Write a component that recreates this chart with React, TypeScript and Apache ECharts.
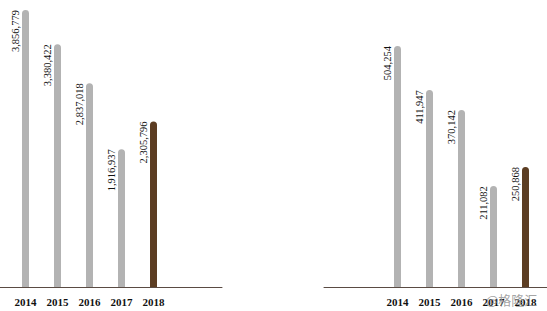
import React, { useEffect, useRef } from "react";
import * as echarts from "echarts";

const years = ["2014", "2015", "2016", "2017", "2018"];
const leftValues = [3856779, 3380422, 2837018, 1916937, 2305796];
const rightValues = [504254, 411947, 370142, 211082, 250868];

const GRAY = "#b3b3b3";
const BROWN = "#5c3d22";
const AXIS = "#5a4b43";
const SERIF = "'Liberation Serif', 'Times New Roman', serif";

const fmt = (v: number) => v.toLocaleString("en-US");

export default function App() {
  const ref = useRef<HTMLDivElement>(null);
  useEffect(() => {
    if (!ref.current) return;
    const chart = echarts.init(ref.current, undefined, { renderer: "svg" });
    const barSeries = (data: number[], idx: number) => ({
      type: "bar",
      xAxisIndex: idx,
      yAxisIndex: idx,
      data: data.map((v, i) => ({
        value: v,
        itemStyle: { color: i === data.length - 1 ? BROWN : GRAY },
      })),
      barWidth: 7,
      itemStyle: { borderRadius: [3.5, 3.5, 0, 0] },
      label: {
        show: true,
        rotate: 90,
        position: [-1, 0],
        align: "right",
        verticalAlign: "bottom",
        fontFamily: SERIF,
        fontSize: 10.5,
        color: "#111",
        formatter: (p: any) => fmt(p.value),
      },
    });
    const catAxis = (idx: number) => ({
      type: "category",
      gridIndex: idx,
      data: years,
      axisLine: { show: false },
      axisTick: { show: false },
      axisLabel: {
        fontFamily: SERIF,
        fontSize: 11,
        fontWeight: "bold",
        color: "#111",
        margin: 9,
      },
    });
    const lineAxis = (idx: number) => ({
      type: "category",
      gridIndex: idx,
      data: [""],
      axisLine: { show: true, lineStyle: { color: AXIS, width: 1 } },
      axisTick: { show: false },
      axisLabel: { show: false },
    });
    chart.setOption({
      animation: false,
      grid: [
        { left: 9.5, width: 160, top: 10, bottom: 24 },
        { left: 381.5, width: 160, top: 46, bottom: 24 },
        { left: 0, width: 222, top: 10, bottom: 24 },
        { left: 324, right: 0, top: 10, bottom: 24 },
      ],
      xAxis: [catAxis(0), catAxis(1), lineAxis(2), lineAxis(3)],
      yAxis: [
        { type: "value", gridIndex: 0, min: 0, max: Math.max(...leftValues), show: false },
        { type: "value", gridIndex: 1, min: 0, max: Math.max(...rightValues), show: false },
        { type: "value", gridIndex: 2, show: false },
        { type: "value", gridIndex: 3, show: false },
      ],
      series: [barSeries(leftValues, 0), barSeries(rightValues, 1)],
      graphic: [
        {
          type: "text",
          left: 486,
          top: 293,
          z: 10,
          style: {
            text: "@格隆汇",
            fontFamily: "'Noto Sans CJK SC', sans-serif",
            fontSize: 13,
            fill: "rgba(140,140,140,0.8)",
          },
        },
      ],
    });
    return () => chart.dispose();
  }, []);
  return (
    <div
      ref={ref}
      style={{ position: "absolute", left: 0, top: 0, width: 547, height: 311 }}
    />
  );
}
